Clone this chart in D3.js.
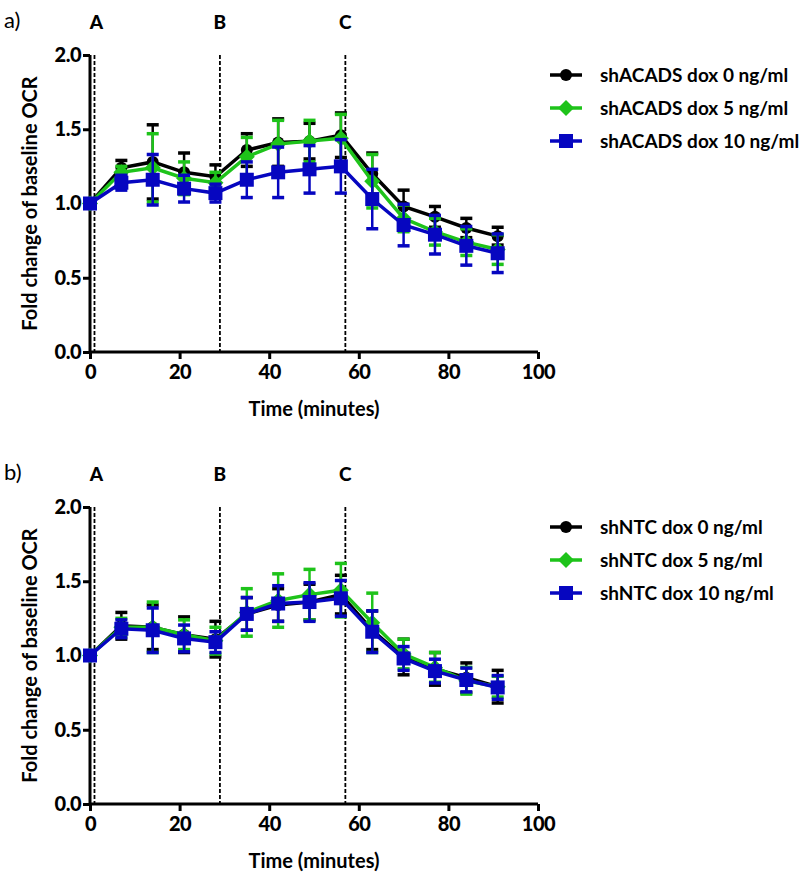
<!DOCTYPE html>
<html>
<head>
<meta charset="utf-8">
<script src="https://cdn.jsdelivr.net/npm/d3@7"></script>
<style>
  body { margin: 0; background: #fff; }
  svg { font-family: Lato, "Open Sans", sans-serif; }
</style>
</head>
<body>
<svg id="canvas"></svg>
<script>
// time points (minutes)
const times = [0, 7, 14, 21, 28, 35, 42, 49, 56, 63, 70, 77, 84, 91];
// injection markers
const injections = [
  { label: "A", t: 1 },
  { label: "B", t: 29 },
  { label: "C", t: 57 },
];
const xTicks = [0, 20, 40, 60, 80, 100];
const yTicks = [0, 0.5, 1.0, 1.5, 2.0];

// panel a) shACADS
const acads0 = [1.0, 1.24, 1.28, 1.21, 1.18, 1.36, 1.41, 1.42, 1.46, 1.2, 0.98, 0.91, 0.835, 0.78];
const acads0Err = [0, 0.05, 0.25, 0.13, 0.08, 0.11, 0.16, 0.12, 0.15, 0.14, 0.11, 0.07, 0.065, 0.06];
const acads5 = [1.0, 1.21, 1.24, 1.17, 1.14, 1.315, 1.4, 1.42, 1.44, 1.15, 0.9, 0.81, 0.74, 0.69];
const acads5Err = [0, 0.04, 0.23, 0.11, 0.07, 0.13, 0.16, 0.14, 0.16, 0.18, 0.09, 0.09, 0.09, 0.1];
const acads10 = [1.0, 1.14, 1.16, 1.1, 1.07, 1.16, 1.21, 1.23, 1.25, 1.03, 0.855, 0.79, 0.715, 0.665];
const acads10Err = [0, 0.05, 0.17, 0.09, 0.06, 0.12, 0.17, 0.16, 0.18, 0.2, 0.14, 0.13, 0.13, 0.13];

// panel b) shNTC
const ntc0 = [1.0, 1.2, 1.19, 1.14, 1.11, 1.28, 1.34, 1.36, 1.41, 1.17, 0.99, 0.91, 0.85, 0.79];
const ntc0Err = [0, 0.09, 0.15, 0.12, 0.12, 0.11, 0.11, 0.12, 0.13, 0.13, 0.12, 0.11, 0.1, 0.11];
const ntc5 = [1.0, 1.19, 1.19, 1.14, 1.1, 1.29, 1.37, 1.41, 1.44, 1.22, 1.01, 0.92, 0.83, 0.79];
const ntc5Err = [0, 0.06, 0.17, 0.1, 0.09, 0.16, 0.18, 0.17, 0.18, 0.2, 0.1, 0.1, 0.09, 0.07];
const ntc10 = [1.0, 1.18, 1.17, 1.115, 1.09, 1.28, 1.35, 1.36, 1.385, 1.16, 0.98, 0.895, 0.835, 0.785];
const ntc10Err = [0, 0.06, 0.15, 0.09, 0.07, 0.11, 0.12, 0.13, 0.12, 0.14, 0.08, 0.08, 0.08, 0.08];

const colors = ["#000000", "#1ec31a", "#0606c0"];
const shapes = ["circle", "diamond", "square"];

const canvas = d3.select("#canvas").attr("width", 808).attr("height", 873);

const panels = [
  {
    tag: "a)", top: 55, bottom: 352,
    names: ["shACADS dox 0 ng/ml", "shACADS dox 5 ng/ml", "shACADS dox 10 ng/ml"],
    means: [acads0, acads5, acads10], errs: [acads0Err, acads5Err, acads10Err],
  },
  {
    tag: "b)", top: 507, bottom: 804,
    names: ["shNTC dox 0 ng/ml", "shNTC dox 5 ng/ml", "shNTC dox 10 ng/ml"],
    means: [ntc0, ntc5, ntc10], errs: [ntc0Err, ntc5Err, ntc10Err],
  },
];

const drawMarker = (sel, shape, color) => {
  if (shape === "circle") {
    sel.append("circle").attr("r", 6).attr("fill", color);
  } else if (shape === "diamond") {
    sel.append("path").attr("d", "M0,-8L8,0L0,8L-8,0Z").attr("fill", color);
  } else {
    sel.append("rect").attr("x", -7).attr("y", -7).attr("width", 14).attr("height", 14).attr("fill", color);
  }
};

panels.forEach((p) => {
  const x = d3.scaleLinear().domain([0, 100]).range([90, 538]);
  const y = d3.scaleLinear().domain([0, 2]).range([p.bottom, p.top]);
  const g = canvas.append("g");

  // panel tag and injection labels
  g.append("text").attr("x", 4).attr("y", p.top - 27).style("font-size", "22px").text(p.tag);
  injections.forEach((inj) => {
    g.append("text")
      .attr("x", x(inj.t) + (inj.label === "A" ? 2 : 0))
      .attr("y", p.top - 26)
      .attr("text-anchor", "middle")
      .style("font-size", "19px")
      .style("font-weight", "900")
      .text(inj.label);
    g.append("line")
      .attr("x1", x(inj.t)).attr("x2", x(inj.t))
      .attr("y1", y(2)).attr("y2", y(0))
      .attr("stroke", "#000")
      .attr("stroke-width", 1.8)
      .attr("stroke-dasharray", "4,2");
  });

  // axes
  const xAxis = g.append("g")
    .attr("transform", "translate(0," + y(0) + ")")
    .call(d3.axisBottom(x).tickValues(xTicks).tickSize(7).tickPadding(6));
  const yAxis = g.append("g")
    .attr("transform", "translate(" + x(0) + ",0)")
    .call(d3.axisLeft(y).tickValues(yTicks).tickFormat(d3.format(".1f")).tickSize(7).tickPadding(2));
  [xAxis, yAxis].forEach((ax) => {
    ax.select(".domain").attr("stroke-width", 3).attr("stroke", "#000");
    ax.selectAll(".tick line").attr("stroke-width", 3).attr("stroke", "#000");
    ax.selectAll(".tick text")
      .style("font-size", "20px")
      .style("font-weight", "900")
      .style("font-family", "Lato, sans-serif")
      .style("letter-spacing", "-0.5px")
      .attr("fill", "#000");
  });
  xAxis.select(".domain").attr("d", "M" + x(0) + ",0H" + x(100));
  yAxis.select(".domain").attr("d", "M0," + y(0) + "V" + y(2));

  g.append("text")
    .attr("x", 314).attr("y", p.bottom + 64)
    .attr("text-anchor", "middle")
    .style("font-size", "20px").style("font-weight", "bold")
    .text("Time (minutes)");
  g.append("text")
    .attr("transform", "translate(37," + (p.top + p.bottom) / 2 + ") rotate(-90)")
    .attr("text-anchor", "middle")
    .style("font-size", "20px").style("font-weight", "bold")
    .text("Fold change of baseline OCR");

  // series
  const line = d3.line().x((d) => x(d.t)).y((d) => y(d.v));
  p.means.forEach((vals, s) => {
    const data = times.map((t, i) => ({ t: t, v: vals[i], e: p.errs[s][i] }));
    const sg = g.append("g");
    const eb = sg.selectAll(".err").data(data.filter((d) => d.e > 0)).enter().append("g")
      .attr("stroke", colors[s]).attr("stroke-width", 2.5);
    eb.append("line")
      .attr("x1", (d) => x(d.t)).attr("x2", (d) => x(d.t))
      .attr("y1", (d) => y(d.v - d.e)).attr("y2", (d) => y(d.v + d.e));
    [-1, 1].forEach((sign) => {
      eb.append("line")
        .attr("x1", (d) => x(d.t) - 6).attr("x2", (d) => x(d.t) + 6)
        .attr("y1", (d) => y(d.v + sign * d.e)).attr("y2", (d) => y(d.v + sign * d.e))
        .attr("stroke-width", 3.5);
    });
    sg.append("path").datum(data)
      .attr("d", line).attr("fill", "none")
      .attr("stroke", colors[s]).attr("stroke-width", 3.5);
    sg.selectAll(".mk").data(data).enter().append("g")
      .attr("transform", (d) => "translate(" + x(d.t) + "," + y(d.v) + ")")
      .each(function () { drawMarker(d3.select(this), shapes[s], colors[s]); });
  });

  // legend
  const lg = g.append("g").attr("transform", "translate(550," + (p.top + 20) + ")");
  p.names.forEach((name, s) => {
    const row = lg.append("g").attr("transform", "translate(0," + s * 33 + ")");
    row.append("line").attr("x1", 0).attr("x2", 32).attr("stroke", colors[s]).attr("stroke-width", 3.5);
    const mk = row.append("g").attr("transform", "translate(16,0)");
    drawMarker(mk, shapes[s], colors[s]);
    row.append("text")
      .attr("x", 50).attr("y", 7)
      .style("font-size", "19px").style("font-weight", "bold")
      .text(name);
  });
});
</script>
</body>
</html>
